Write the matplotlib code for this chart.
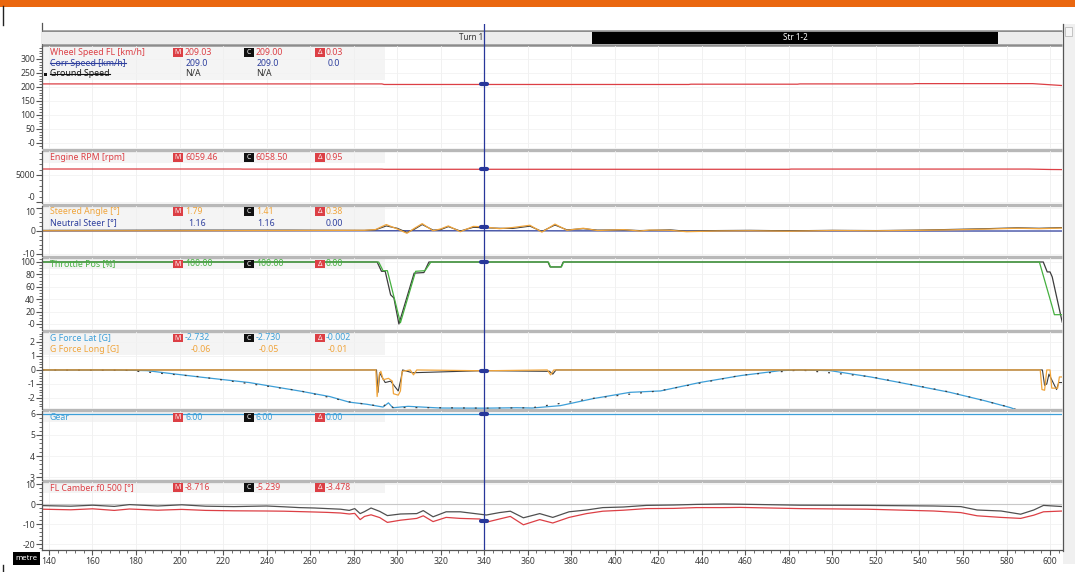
import numpy as np
import matplotlib.pyplot as plt
from matplotlib.patches import Rectangle
from matplotlib.ticker import MultipleLocator

plt.rcParams['font.family'] = ['Noto Sans', 'DejaVu Sans']

W, H = 1075, 572

RED = '#dc3f45'
BLUE_DK = '#2e3f9e'
ORANGE = '#f0a53c'
GREEN = '#45b03f'
LBLUE = '#3d9fd8'
CMP = '#3c3c3c'
CURSOR = '#28379a'

# distance window (metres) and cursor position
dist_lo, dist_hi = 136.8, 605.5
cursor_at = 340.0
x_ticks = list(range(140, 601, 20))

# track segments
seg_names = ['Turn 1', 'Str 1-2']
seg_start = [278.0, 389.7]
seg_end = [389.7, 576.0]

# wheel speed FL [km/h]
speed_d = [137, 293, 294, 434, 435, 484, 485, 537, 538, 592, 600, 606]
speed = [211, 211, 209, 209, 210, 210, 211, 211, 212, 212, 208, 205]

# engine rpm
rpm_d = [137, 228, 229, 293, 294, 480, 481, 590, 600, 606]
rpm = [6110, 6110, 6090, 6090, 6059, 6059, 6100, 6100, 6020, 6000]

# steered angle [deg], current lap and compare lap
steer_d = [137, 200, 250, 285, 290, 295, 300, 304.5, 308, 311.5,
           316.5, 320, 323.5, 329, 335, 340, 347, 353, 361, 366.5,
           372.5, 378, 385.5, 392, 404, 411.5, 416, 425.5, 433, 447,
           462, 480, 500, 520, 540, 555, 570, 585, 595, 606]
steer_cur = [0.1, 0.1, 0.2, 0.3, 0.6, 2.8, 0.9, -1.0, 1.2, 3.2,
             0.1, 0.9, 2.2, -0.3, 2.0, 1.8, 1.0, 1.5, 2.5, -0.5,
             3.0, 0.3, 1.2, 0.2, 0.6, 0.0, 0.4, 0.3, -0.3, 0.0,
             0.1, -0.1, 0.2, 0.1, 0.3, 0.5, 0.8, 1.2, 1.0, 1.3]
steer_cmp = [0.3, 0.4, 0.4, 0.3, 0.5, 2.2, 1.2, -0.6, 0.8, 2.8,
             0.4, 0.6, 1.9, 0.0, 1.6, 1.4, 1.2, 1.1, 2.1, -0.2,
             2.6, 0.5, 1.0, 0.4, 0.5, 0.2, 0.3, 0.5, -0.1, 0.2,
             0.3, 0.1, 0.3, 0.2, 0.4, 0.7, 1.0, 1.4, 1.2, 1.5]
neutral_d = [137, 300, 340, 450, 606]
neutral = [0.0, 0.1, 0.1, 0.0, 0.0]

# throttle position [%]
thr_cur_d = [137, 291.5, 293.5, 295.5, 301.5, 308.5, 312.8, 315.5, 369.5, 370.5,
             375.5, 376.5, 595.1, 601, 602, 606]
thr_cur = [100, 100, 86, 86, 2, 85, 86, 100, 100, 92,
           92, 100, 100, 28, 15, 15]
thr_cmp_d = [137, 290.8, 292.8, 294.5, 297, 298.5, 300.8, 307.8, 312.3, 314.6,
             369.3, 370.3, 375.3, 376.3, 596.9, 598.7, 600, 601, 605.6]
thr_cmp = [100, 100, 85, 85, 47, 42, 0, 82, 83, 100,
           100, 92, 92, 100, 100, 84, 84, 76, 3]

# lateral g
glat_d = [137, 170, 185, 209, 232, 255, 269, 278, 286, 293.5,
          296, 298, 305, 320, 340, 355, 362, 375, 390, 407,
          421, 439, 458, 476, 485, 499, 517.5, 531, 554, 570,
          582, 590]
glat = [0, 0, -0.05, -0.5, -0.9, -1.5, -1.9, -2.3, -2.45, -2.65,
        -2.35, -2.7, -2.6, -2.72, -2.73, -2.7, -2.72, -2.55, -2.05, -1.6,
        -1.5, -0.9, -0.4, -0.05, 0, -0.05, -0.5, -0.9, -1.6, -2.2,
        -2.7, -3.2]
glat_cmp_d = [137, 175, 209, 255, 278, 293.5, 296, 298, 320, 340,
              362, 390, 421, 458, 485, 517.5, 554, 582, 590]
glat_cmp = [0, -0.02, -0.48, -1.48, -2.28, -2.62, -2.3, -2.68, -2.7, -2.73,
            -2.7, -2.03, -1.48, -0.38, 0, -0.48, -1.58, -2.68, -3.2]

# longitudinal g
glong_d = [137, 290.2, 290.8, 291.8, 292.5, 293.6, 296, 297.8, 298.3, 300.5,
           301.5, 302.3, 306, 307.5, 309, 340, 369, 370.5, 372, 595.5,
           596.3, 597.5, 598.5, 600, 600.8, 603.5, 604.3, 606]
glong = [0, 0, -1.9, -0.3, -0.1, -0.7, -0.6, -0.8, -1.7, -1.8,
         -1.5, -0.1, 0, -0.35, 0, -0.06, 0, -0.35, 0, 0,
         -1.4, -1.45, 0, 0, -1.3, -1.3, -0.5, -0.5]
glong_cmp_d = [137, 290.5, 291.2, 292, 293, 294.5, 297, 299, 300.5, 301.8,
               302.5, 307, 340, 370, 371.5, 373, 596.5, 597.5, 598.5, 599.5,
               603, 604, 606]
glong_cmp = [0, 0, -1.6, -0.2, -0.5, -0.9, -0.8, -1.2, -1.5, -0.6,
             0, -0.2, -0.05, -0.1, -0.3, 0, 0, -1.1, -1.0, -0.3,
             -1.4, -0.9, -0.9]

# gear
gear_d = [137, 606]
gear = [6, 6]

# FL camber [deg]
cam_d = [137, 150, 160, 170, 177, 190, 201, 212, 225, 240,
         248, 255, 262, 268, 274, 278, 280.5, 283, 285, 288,
         292, 295.5, 301.5, 309, 312, 316.5, 322.5, 329, 338, 341,
         347, 352, 358, 365.5, 371.5, 379, 387, 394.5, 404, 414.5,
         427, 437.5, 450, 457.5, 485, 516, 546.5, 559, 566.5, 577.5,
         586.5, 592.5, 597, 606]
cam_cmp = [-0.6, -0.9, -0.4, -1.0, -0.1, -0.8, -0.2, -0.9, -1.1, -0.8,
           -1.2, -1.6, -1.8, -2.1, -2.4, -3.0, -2.1, -4.6, -3.6, -1.8,
           -3.5, -5.6, -4.8, -4.6, -3.1, -6.2, -3.7, -3.7, -4.9, -5.3,
           -4.1, -3.4, -6.7, -4.6, -6.5, -3.7, -2.8, -1.6, -1.3, -0.5,
           -0.3, 0.0, 0.2, 0.1, -0.4, -0.5, -0.8, -1.1, -2.8, -3.3,
           -4.9, -2.8, -0.5, -1.1]
cam_cur = [-2.4, -2.7, -2.2, -3.0, -2.3, -2.9, -2.5, -3.0, -3.2, -3.3,
           -3.4, -3.6, -3.8, -4.0, -4.3, -4.8, -4.5, -7.6, -6.0, -5.2,
           -6.6, -9.0, -7.9, -7.0, -5.7, -8.6, -6.5, -7.0, -7.3, -8.9,
           -7.3, -6.0, -10.2, -7.6, -9.3, -6.5, -4.6, -3.4, -2.9, -2.1,
           -2.0, -1.6, -1.6, -1.5, -2.1, -2.4, -3.3, -4.1, -5.7, -6.5,
           -7.0, -5.4, -3.7, -3.3]

fig = plt.figure(figsize=(W / 100, H / 100), dpi=100)
fig.patch.set_facecolor('white')


def px_axes(x0, y0, x1, y1, z):
    ax = fig.add_axes([x0 / W, 1 - y1 / H, (x1 - x0) / W, (y1 - y0) / H], zorder=z)
    return ax


# background layer: frame, dividers, header boxes
back = px_axes(0, 0, W, H, 0)
back.set_xlim(0, W)
back.set_ylim(H, 0)
back.axis('off')
back.add_patch(Rectangle((0, 0), W, 6.5, color='#ea670f', lw=0))
back.plot([3, 3], [6, 25], color='#222', lw=1)
back.plot([3, 3], [565, 572], color='#222', lw=1)
back.add_patch(Rectangle((1063, 24), 12, 540, color='#f0f0f0', lw=0))
back.add_patch(Rectangle((1065, 27), 7, 9, fc='#f7f7f7', ec='#bbbbbb', lw=0.6))
back.plot([1062.5, 1062.5], [24, 551], color='#555', lw=0.9)
back.plot([42, 42], [23, 46], color='#555', lw=0.9)

for yy in [31, 44.5]:
    back.plot([42, 1062], [yy, yy], color='#8c8c8c', lw=1.8, solid_capstyle='butt')
for yy in [149.5, 204.5, 257, 331, 410, 481]:
    back.plot([42, 1062], [yy, yy], color='#b8b8b8', lw=2.4, solid_capstyle='butt')

header_boxes = [(47, 80), (152, 163), (207, 229), (259, 269), (333, 355), (412, 422), (483, 493)]
for y0, y1 in header_boxes:
    back.add_patch(Rectangle((43, y0), 342, y1 - y0, color='#f4f4f4', lw=0))

# segment strip
seg_ax = px_axes(42, 32, 1062, 43.5, 1)
seg_ax.set_xlim(dist_lo, dist_hi)
seg_ax.set_ylim(0, 1)
seg_ax.axis('off')
seg_ax.axvspan(dist_lo, dist_hi, color='#ececec', lw=0)
for name, s0, s1 in zip(seg_names, seg_start, seg_end):
    dark = name.startswith('Str')
    if dark:
        seg_ax.axvspan(s0, s1, color='black', lw=0)
    seg_ax.text((s0 + s1) / 2, 0.5, name, ha='center', va='center', fontsize=5.8,
                color='white' if dark else '#333333')


def panel(top, bottom, ylim, majors, labels, minor):
    ax = px_axes(42, top, 1062, bottom, 2)
    ax.patch.set_visible(False)
    ax.set_xlim(dist_lo, dist_hi)
    ax.set_ylim(*ylim)
    for s in ('top', 'right', 'bottom'):
        ax.spines[s].set_visible(False)
    ax.spines['left'].set_color('#555555')
    ax.spines['left'].set_linewidth(0.9)
    ax.set_yticks(majors)
    ax.set_yticklabels(labels)
    ax.yaxis.set_minor_locator(MultipleLocator(minor))
    ax.tick_params(axis='y', which='major', length=4, width=0.8, color='#555555',
                   labelsize=6.2, labelcolor='#3a3a3a', pad=1)
    ax.tick_params(axis='y', which='minor', length=2, width=0.6, color='#555555')
    ax.set_xticks(x_ticks)
    ax.tick_params(axis='x', length=0, labelbottom=False)
    ax.grid(True, axis='x', color='#efefef', lw=0.6)
    ax.grid(True, axis='y', which='major', color='#f2f2f2', lw=0.6)
    ax.set_axisbelow(True)
    return ax


ax1 = panel(46, 148, (-17.9, 346.4), [0, 50, 100, 150, 200, 250, 300],
            ['-0', '50', '100', '150', '200', '250', '300'], 10)
ax2 = panel(151, 203, (-185, 9444), [0, 5000], ['-0', '5000'], 1000)
ax3 = panel(206, 256, (-10.87, 10.87), [-10, 0, 10], ['-10', '0', '10'], 2)
ax4 = panel(258, 330, (-9.7, 106.45), [0, 20, 40, 60, 80, 100],
            ['-0', '20', '40', '60', '80', '100'], 5)
ax5 = panel(332, 409, (-2.79, 2.71), [-2, -1, 0, 1, 2], ['-2', '-1', '0', '1', '2'], 0.2)
ax6 = panel(411, 480, (2.86, 6.14), [3, 4, 5, 6], ['3', '4', '5', '6'], 0.2)
ax7 = panel(482, 550, (-22.8, 11.2), [-20, -10, 0, 10], ['-20', '-10', '0', '10'], 2)

# stacked end labels sit just clear of each other
ax2.get_yticklabels()[0].set_verticalalignment('bottom')
ax3.get_yticklabels()[-1].set_verticalalignment('top')

# bottom distance axis
ax7.spines['bottom'].set_visible(True)
ax7.spines['bottom'].set_color('#555555')
ax7.spines['bottom'].set_linewidth(0.9)
ax7.xaxis.set_minor_locator(MultipleLocator(4))
ax7.tick_params(axis='x', which='major', length=3.5, width=0.8, color='#555555',
                labelbottom=True, labelsize=6.2, labelcolor='#3a3a3a', pad=1.5)
ax7.tick_params(axis='x', which='minor', length=2, width=0.6, color='#555555')

lw = 0.9
ax1.plot(speed_d, speed, color=RED, lw=lw)
ax2.plot(rpm_d, rpm, color=RED, lw=lw)

ax3.plot(neutral_d, neutral, color=BLUE_DK, lw=lw)
ax3.plot(steer_d, steer_cmp, color=CMP, lw=0.8)
ax3.plot(steer_d, steer_cur, color=ORANGE, lw=lw)

ax4.plot(thr_cmp_d, thr_cmp, color=CMP, lw=0.9)
ax4.plot(thr_cur_d, thr_cur, color=GREEN, lw=lw)

ax5.plot(glat_d, glat, color=LBLUE, lw=lw)
ax5.plot(glat_cmp_d, glat_cmp, color=CMP, lw=0.9, dashes=(1.5, 8))
ax5.plot(glong_cmp_d, glong_cmp, color=CMP, lw=0.8)
ax5.plot(glong_d, glong, color=ORANGE, lw=lw)

ax6.plot(gear_d, gear, color=LBLUE, lw=lw)

ax7.axhline(0, color='#c8c8c8', lw=0.8)
ax7.plot(cam_d, cam_cmp, color='#505050', lw=lw)
ax7.plot(cam_d, cam_cur, color=RED, lw=lw)

# cursor readout markers
for ax, d, v in [(ax1, speed_d, speed), (ax2, rpm_d, rpm), (ax3, steer_d, steer_cur),
                 (ax4, thr_cur_d, thr_cur), (ax5, glong_d, glong), (ax6, gear_d, gear),
                 (ax7, cam_d, cam_cur)]:
    val = np.interp(cursor_at, d, v)
    ax.plot([cursor_at - 1.3, cursor_at + 1.3], [val, val], color=CURSOR, lw=3,
            solid_capstyle='round', zorder=6, clip_on=False)

cur_ax = px_axes(42, 24, 1062, 550, 3)
cur_ax.set_xlim(dist_lo, dist_hi)
cur_ax.axis('off')
cur_ax.axvline(cursor_at, color=CURSOR, lw=0.9)

# front layer: channel headers
front = px_axes(0, 0, W, H, 5)
front.set_xlim(0, W)
front.set_ylim(H, 0)
front.axis('off')

FS = 6.3
box_x = [173, 244, 315]
box_fc = [RED, '#111111', RED]
box_txt = ['M', 'C', 'Δ']
val_x = [185, 256, 326]

headers = [
    (52.5, 'Wheel Speed FL [km/h]', RED, ['209.03', '209.00', '0.03']),
    (157.5, 'Engine RPM [rpm]', RED, ['6059.46', '6058.50', '0.95']),
    (211.5, 'Steered Angle [°]', ORANGE, ['1.79', '1.41', '0.38']),
    (264, 'Throttle Pos [%]', GREEN, ['100.00', '100.00', '0.00']),
    (338, 'G Force Lat [G]', LBLUE, ['-2.732', '-2.730', '-0.002']),
    (417.5, 'Gear', LBLUE, ['6.00', '6.00', '0.00']),
    (487.5, 'FL Camber.f0.500 [°]', RED, ['-8.716', '-5.239', '-3.478']),
]
sub_rows = [
    (63.5, 'Corr Speed [km/h]', BLUE_DK, ['209.0', '209.0', '0.0'], [186, 257, 328], True, False),
    (74, 'Ground Speed', '#111111', ['N/A', 'N/A', ''], [185, 256, 326], True, True),
    (223, 'Neutral Steer [°]', BLUE_DK, ['1.16', '1.16', '0.00'], [188, 257, 326], False, False),
    (349, 'G Force Long [G]', ORANGE, ['-0.06', '-0.05', '-0.01'], [191, 259, 328], False, False),
]

for y, name, col, vals in headers:
    front.text(50, y, name, color=col, fontsize=FS, va='center', ha='left')
    for bx, fc, t, vx, v in zip(box_x, box_fc, box_txt, val_x, vals):
        front.add_patch(Rectangle((bx, y - 4.3), 9.5, 8.6, color=fc, lw=0))
        front.text(bx + 4.75, y + 0.2, t, color='white', fontsize=5, fontweight='bold',
                   ha='center', va='center')
        front.text(vx, y, v, color=col, fontsize=FS, va='center', ha='left')

struck = []
for y, name, col, vals, xs, strike, bullet in sub_rows:
    t = front.text(50, y, name, color=col, fontsize=FS, va='center', ha='left')
    if strike:
        struck.append((t, y, col))
    if bullet:
        front.add_patch(Rectangle((43.5, y - 1.5), 3, 3, color='#111111', lw=0))
    for vx, v in zip(xs, vals):
        front.text(vx, y, v, color=col if col != '#111111' else '#333333', fontsize=FS,
                   va='center', ha='left')

# unit box under the y axis
front.add_patch(Rectangle((13, 552), 27, 13, color='black', lw=0))
front.text(26.5, 558.5, 'metre', color='white', fontsize=5.6, ha='center', va='center')

fig.canvas.draw()
for t, y, col in struck:
    bb = t.get_window_extent()
    front.plot([bb.x0, bb.x1], [y - 0.3, y - 0.3], color=col, lw=0.8)

fig.savefig('out.png', dpi=100)
